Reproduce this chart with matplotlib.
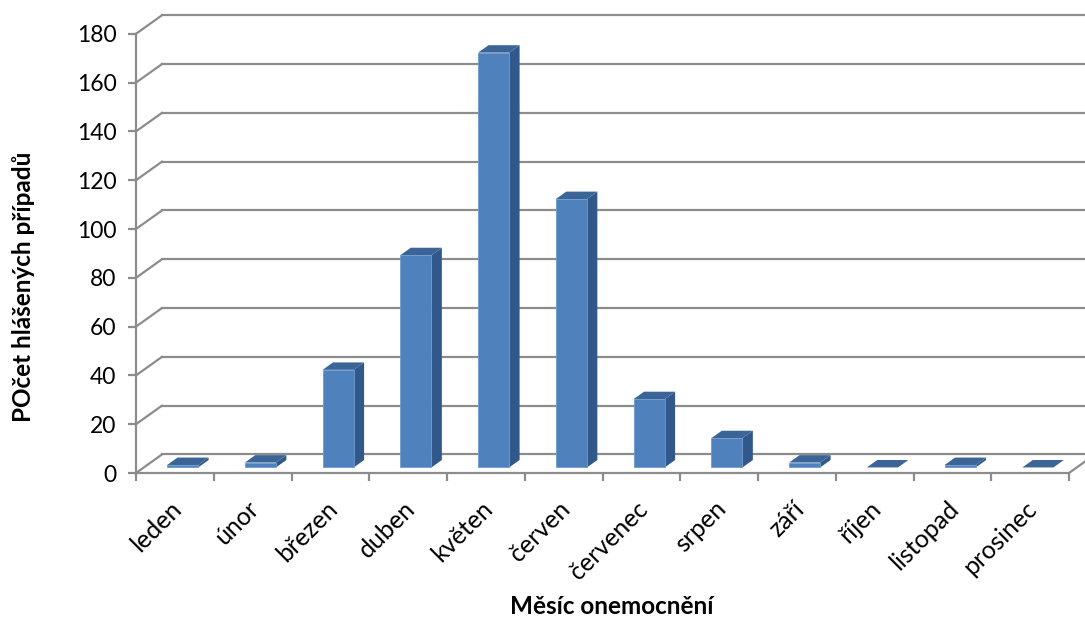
import matplotlib
matplotlib.use("Agg")
import matplotlib.pyplot as plt
import matplotlib.transforms as mtransforms
from matplotlib.patches import Polygon

months = ["leden", "únor", "březen", "duben", "květen", "červen",
          "červenec", "srpen", "září", "říjen", "listopad", "prosinec"]
cases = [1, 2, 40, 87, 170, 110, 28, 12, 2, 0, 1, 0]
yticks = list(range(0, 181, 20))

FRONT = "#4F81BD"; SIDE = "#31588A"; TOP = "#3B6497"; EDGE = "#6E9AD0"
GRID = "#8C8C8C"
FONT = ["Lato", "DejaVu Sans"]
plt.rcParams["font.family"] = FONT

# depth of the 3-D box in data units (x: categories, y: value units)
DX, DY = 0.334, 7.6
F0, F1 = 0.3, 0.7       # bar front/back depth fraction
BW = 0.4                # bar width in categories

fig = plt.figure(figsize=(10.85, 6.2), dpi=100)
ax = fig.add_axes([136 / 1085, 147 / 620, 933 / 1085, 439.2 / 620])
ax.set_xlim(0, 12)
ax.set_ylim(0, 180)

# walls and gridlines
for v in yticks:
    ax.plot([DX, 12 + DX], [v + DY, v + DY], color=GRID, lw=1.6, zorder=1, clip_on=False)
    ax.plot([0, DX], [v, v + DY], color=GRID, lw=1.6, zorder=1, clip_on=False)
ax.plot([12, 12 + DX], [0, DY], color=GRID, lw=1.6, zorder=1, clip_on=False)

# bars
for i, v in enumerate(cases):
    x0 = i + 0.5 - BW / 2
    x1 = i + 0.5 + BW / 2
    fx0, fx1 = x0 + F0 * DX, x1 + F0 * DX
    fy0, fy1 = F0 * DY, v + F0 * DY
    ddx, ddy = (F1 - F0) * DX, (F1 - F0) * DY
    side = [(fx1, fy0), (fx1 + ddx, fy0 + ddy), (fx1 + ddx, fy1 + ddy), (fx1, fy1)]
    top = [(fx0, fy1), (fx1, fy1), (fx1 + ddx, fy1 + ddy), (fx0 + ddx, fy1 + ddy)]
    ax.add_patch(Polygon(side, closed=True, fc=SIDE, ec="none", zorder=3, clip_on=False))
    ax.add_patch(Polygon(top, closed=True, fc=TOP, ec="none", zorder=3, clip_on=False))
    if v > 0:
        front = [(fx0, fy0), (fx1, fy0), (fx1, fy1), (fx0, fy1)]
        ax.add_patch(Polygon(front, closed=True, fc=FRONT, ec=EDGE, lw=0.6, zorder=4, clip_on=False))

for s in ("top", "right"):
    ax.spines[s].set_visible(False)
for s in ("left", "bottom"):
    ax.spines[s].set_color(GRID)
    ax.spines[s].set_linewidth(1.6)
    ax.spines[s].set_zorder(2)

ax.set_yticks(yticks)
ax.set_yticklabels([str(t) for t in yticks], fontsize=16.5)
ax.set_xticks(range(13))
ax.set_xticklabels([])
ax.set_xticks([i + 0.5 for i in range(12)], minor=True)
ax.set_xticklabels(months, minor=True, fontsize=18, rotation=45,
                   ha="right", va="center", rotation_mode="anchor")
ax.tick_params(axis="both", which="major", direction="out", length=6, width=1.6,
               color=GRID, pad=8)
ax.tick_params(axis="x", which="minor", length=0, pad=23)
shift = mtransforms.ScaledTranslation(3 / 100, 0, fig.dpi_scale_trans)
for lab in ax.get_xticklabels(minor=True):
    lab.set_transform(lab.get_transform() + shift)

fig.text(612 / 1085, 1 - 607 / 620, "Měsíc onemocnění", ha="center", va="center",
         fontsize=17.5, fontweight="bold")
fig.text(24 / 1085, 1 - 287 / 620, "POčet hlášených případů", ha="center", va="center",
         rotation=90, fontsize=17.5, fontweight="bold")

fig.savefig("out.png", dpi=100)
